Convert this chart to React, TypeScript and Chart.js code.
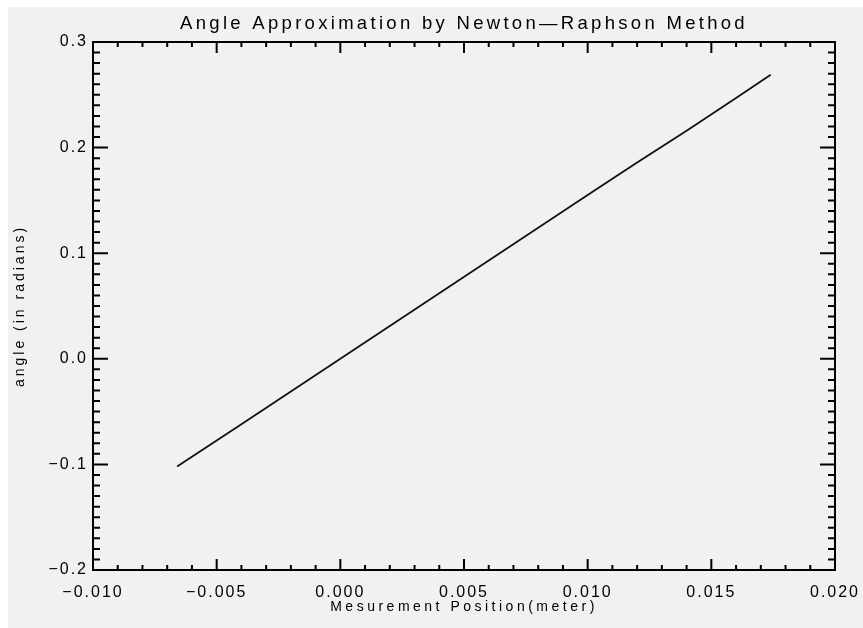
import React, { useEffect, useRef } from "react";
import { Chart, registerables } from "chart.js";

Chart.register(...registerables);

// Data
const positions = [-0.0066, -0.004, -0.002, 0.0, 0.002, 0.004, 0.006, 0.008, 0.01, 0.012, 0.014, 0.016, 0.0174];
const angles = [-0.102, -0.062, -0.031, 0.0, 0.031, 0.062, 0.093, 0.124, 0.155, 0.186, 0.216, 0.247, 0.269];

const xTickValues = [-0.01, -0.005, 0.0, 0.005, 0.01, 0.015, 0.02];
const xTickLabels = ["\u22120.010", "\u22120.005", "0.000", "0.005", "0.010", "0.015", "0.020"];
const yTickValues = [-0.2, -0.1, 0.0, 0.1, 0.2, 0.3];
const yTickLabels = ["\u22120.2", "\u22120.1", "0.0", "0.1", "0.2", "0.3"];
const xMinorPerMajor = 5;
const yMinorPerMajor = 10;

const titleText = "Angle Approximation by Newton\u2014Raphson Method";
const xTitle = "Mesurement Position(meter)";
const yTitle = "angle (in radians)";

const FONT = "'Liberation Sans', Arial, Helvetica, sans-serif";

// give each scale its own letter spacing for labels and title
function spaced(s: any, tickSp: string, titleSp: string) {
  if (s.__spaced) return;
  s.__spaced = true;
  const dl = s.drawLabels.bind(s);
  const dt = s.drawTitle.bind(s);
  s.drawLabels = (a: any) => {
    s.ctx.letterSpacing = tickSp;
    dl(a);
    s.ctx.letterSpacing = "0px";
  };
  s.drawTitle = (a: any) => {
    s.ctx.letterSpacing = titleSp;
    dt(a);
    s.ctx.letterSpacing = "0px";
  };
}

function noEdgePadding(s: any) {
  s.paddingLeft = 0;
  s.paddingRight = 0;
  s.paddingTop = 0;
  s.paddingBottom = 0;
}

const framePlugin = {
  id: "frameTicks",
  afterDatasetsDraw(chart: any) {
    const { ctx, chartArea } = chart;
    const xs = chart.scales.x;
    const ys = chart.scales.y;
    const { left, right, top, bottom } = chartArea;
    ctx.save();
    ctx.strokeStyle = "#000";
    ctx.lineWidth = 2;
    ctx.lineCap = "butt";
    ctx.beginPath();
    ctx.rect(left, top, right - left, bottom - top);
    ctx.stroke();

    for (let i = 0; i < xTickValues.length - 1; i++) {
      const a = xTickValues[i];
      const b = xTickValues[i + 1];
      for (let k = 0; k <= xMinorPerMajor; k++) {
        if (k === xMinorPerMajor && i < xTickValues.length - 2) continue;
        const v = a + ((b - a) * k) / xMinorPerMajor;
        const px = xs.getPixelForValue(v);
        const len = k === 0 || k === xMinorPerMajor ? 11 : 5;
        ctx.beginPath();
        ctx.moveTo(px, bottom);
        ctx.lineTo(px, bottom - len);
        ctx.moveTo(px, top);
        ctx.lineTo(px, top + len);
        ctx.stroke();
      }
    }
    for (let i = 0; i < yTickValues.length - 1; i++) {
      const a = yTickValues[i];
      const b = yTickValues[i + 1];
      for (let k = 0; k <= yMinorPerMajor; k++) {
        if (k === yMinorPerMajor && i < yTickValues.length - 2) continue;
        const v = a + ((b - a) * k) / yMinorPerMajor;
        const py = ys.getPixelForValue(v);
        const len = k === 0 || k === yMinorPerMajor ? 15 : 7;
        ctx.beginPath();
        ctx.moveTo(left, py);
        ctx.lineTo(left + len, py);
        ctx.moveTo(right, py);
        ctx.lineTo(right - len, py);
        ctx.stroke();
      }
    }
    ctx.restore();
  },
};

export default function App() {
  const ref = useRef<HTMLCanvasElement | null>(null);

  useEffect(() => {
    const canvas = ref.current;
    if (!canvas) return;
    const chart = new Chart(canvas, {
      type: "scatter",
      data: {
        datasets: [
          {
            data: positions.map((x, i) => ({ x, y: angles[i] })),
            showLine: true,
            borderColor: "#111",
            borderWidth: 1.8,
            pointRadius: 0,
            fill: false,
            tension: 0,
          },
        ],
      },
      options: {
        animation: false,
        responsive: false,
        maintainAspectRatio: false,
        layout: { padding: { left: 0, right: 28, top: 0, bottom: 0 } },
        plugins: {
          legend: { display: false },
          tooltip: { enabled: false },
          title: { display: false },
        },
        scales: {
          x: {
            type: "linear",
            position: "bottom",
            min: xTickValues[0],
            max: xTickValues[xTickValues.length - 1],
            afterBuildTicks: (s: any) => {
              s.ticks = xTickValues.map((v) => ({ value: v }));
            },
            afterFit: (s: any) => {
              s.height = 58;
              noEdgePadding(s);
              spaced(s, "2px", "3.5px");
            },
            grid: { display: false, drawTicks: false },
            border: { display: false },
            ticks: {
              autoSkip: false,
              maxRotation: 0,
              padding: 12.8,
              color: "#000",
              font: { family: FONT, size: 16 },
              callback: (_v: any, i: number) => xTickLabels[i],
            },
            title: {
              display: true,
              text: xTitle,
              color: "#000",
              font: { family: FONT, size: 14 },
              padding: { top: 0, bottom: 12.6 },
            },
          },
          x2: {
            type: "linear",
            position: "top",
            min: xTickValues[0],
            max: xTickValues[xTickValues.length - 1],
            afterFit: (s: any) => {
              s.height = 35;
              noEdgePadding(s);
              spaced(s, "0px", "3.3px");
            },
            grid: { display: false, drawTicks: false },
            border: { display: false },
            ticks: { display: false },
            title: {
              display: true,
              text: titleText,
              color: "#000",
              font: { family: FONT, size: 18.5 },
              padding: { top: 5.9, bottom: 0 },
            },
          },
          y: {
            type: "linear",
            position: "left",
            min: yTickValues[0],
            max: yTickValues[yTickValues.length - 1],
            afterBuildTicks: (s: any) => {
              s.ticks = yTickValues.map((v) => ({ value: v }));
            },
            afterFit: (s: any) => {
              s.width = 85;
              noEdgePadding(s);
              spaced(s, "2px", "3px");
            },
            grid: { display: false, drawTicks: false },
            border: { display: false },
            ticks: {
              autoSkip: false,
              padding: 5,
              color: "#000",
              font: { family: FONT, size: 16 },
              callback: (_v: any, i: number) => yTickLabels[i],
            },
            title: {
              display: true,
              text: yTitle,
              color: "#000",
              font: { family: FONT, size: 14 },
              padding: { top: 3.6, bottom: 0 },
            },
          },
        },
      },
      plugins: [framePlugin],
    } as any);
    return () => chart.destroy();
  }, []);

  return (
    <div
      style={{
        position: "fixed",
        left: 8,
        top: 7,
        width: 855,
        height: 621,
        background: "#f1f1f1",
      }}
    >
      <canvas ref={ref} width={855} height={621} style={{ width: 855, height: 621, display: "block" }} />
    </div>
  );
}
